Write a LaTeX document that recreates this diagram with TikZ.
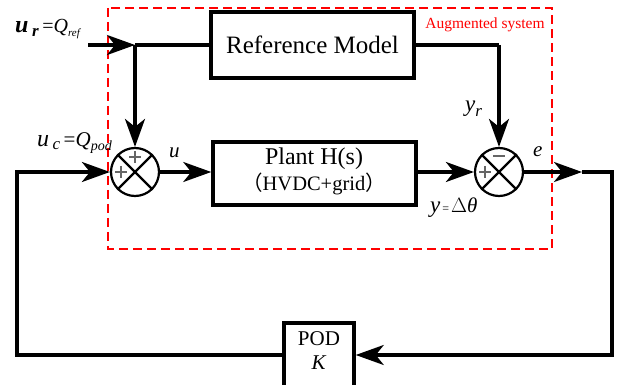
\documentclass[tikz,border=0pt]{standalone}
\usepackage{fontspec}
\setmainfont{Liberation Serif}
\newfontfamily\cjkfont{Noto Sans CJK SC}
\usetikzlibrary{arrows.meta,calc}
\begin{document}
\begin{tikzpicture}[x=1pt,y=-1pt,
  blk/.style={draw,line width=3.5pt,minimum width=203pt,inner sep=0pt,align=center},
  sumc/.style={draw,circle,line width=2.2pt,minimum size=48pt,inner sep=0pt},
  wire/.style={line width=3.2pt},
  arr/.style={wire,-{Stealth[length=28pt,width=20pt,inset=8pt]}},
  sign/.style={line width=1.4pt,gray!80!black},
  lbl/.style={inner sep=0pt,font=\fontsize{21}{21}\selectfont}]
\clip (0,0) rectangle (625,385);
\useasboundingbox (0,0) rectangle (625,385);
% augmented system box
\draw[red,line width=1.7pt,dash pattern=on 9pt off 5pt] (108,8) rectangle (552,249);
\node[red,inner sep=0pt,font=\fontsize{15.5}{15.5}\selectfont] (aug) at (485,25) {Augmented system};
% blocks
\node[blk,minimum height=66pt,font=\fontsize{25}{25}\selectfont] (rm) at (312.5,45) {Reference Model};
\node[blk,minimum height=63pt] (plant) at (314.5,173.5) {};
\node[inner sep=0pt,anchor=base,font=\fontsize{24}{24}\selectfont] (pt1) at (314,165) {Plant H(s)};
\node[inner sep=0pt,anchor=base,font=\fontsize{20.5}{20.5}\selectfont] (pt2) at (314,191) {{\cjkfont （}HVDC+grid{\cjkfont ）}};
\node[draw,line width=3.5pt,minimum width=70pt,minimum height=70pt,inner sep=0pt] (pod) at (319,358) {};
\node[inner sep=0pt,align=center,font=\fontsize{21}{24}\selectfont,anchor=north] (podt) at (319,331) {POD\\\textit{K}};
% summing junctions
\node[sumc] (s1) at (135,172) {};
\node[sumc] (s2) at (499,172) {};
\foreach \s in {s1,s2}{
  \draw[line width=2.2pt] (\s.north west) -- (\s.south east);
  \draw[line width=2.2pt] (\s.north east) -- (\s.south west);
}
\draw[sign] ($(s1)+(-6,-15)$) -- ($(s1)+(6,-15)$) ($(s1)+(0,-21)$) -- ($(s1)+(0,-9)$);
\draw[sign] ($(s1)+(-20,0)$) -- ($(s1)+(-8,0)$) ($(s1)+(-14,-6)$) -- ($(s1)+(-14,6)$);
\draw[sign] ($(s2)+(-6,-16)$) -- ($(s2)+(6,-16)$);
\draw[sign] ($(s2)+(-20,0)$) -- ($(s2)+(-8,0)$) ($(s2)+(-14,-6)$) -- ($(s2)+(-14,6)$);
% coordinates
\coordinate (urin) at (88,45);
\coordinate (j1) at (135,45);
\coordinate (ytop) at (499,45);
\coordinate (etip) at (582,172);
\coordinate (c1) at (612,172);
\coordinate (c2) at (612,355);
\coordinate (c3) at (17,355);
\coordinate (c4) at (17,172);
% connectors
\draw[arr] (urin) -- (j1);
\draw[wire] (j1) -- (rm.west |- j1);
\draw[arr] (j1) -- (s1.north);
\draw[wire] (rm.east |- ytop) -- (ytop);
\draw[arr] (ytop) -- (s2.north);
\draw[arr] (s1.east) -- (plant.west |- s1.east);
\draw[arr] (plant.east |- s2.west) -- (s2.west);
\draw[arr] (s2.east) -- (etip);
\draw[wire,line join=miter] (etip) -- (c1) -- (c2) -- ++(-100,0);
\draw[arr] (c2) -- (pod.east |- c2);
\draw[wire,line join=miter] (pod.west |- c2) -- (c3) -- (c4) -- ++(40,0);
\draw[arr] (c4) -- (s1.west);
% labels
\node[lbl,anchor=base west] (lur) at (15,33) {{\fontsize{24}{24}\selectfont\textbf{\textit{u}}}\,\raisebox{-4pt}{\fontsize{17}{17}\selectfont\textbf{\textit{r}}}\,{\fontsize{20}{20}\selectfont =\textit{Q}}\raisebox{-4pt}{\fontsize{11}{11}\selectfont\textit{ref}}};
\node[lbl,anchor=base west] (luc) at (37,147) {{\fontsize{24}{24}\selectfont\textit{u}}\,\raisebox{-3pt}{\fontsize{17}{17}\selectfont\textit{c}}{\fontsize{21}{21}\selectfont\,=\textit{Q}}\raisebox{-4pt}{\fontsize{14}{14}\selectfont\textit{pod}}};
\node[lbl,anchor=base west] (lu) at (169,158) {\textit{u}};
\node[lbl,anchor=base west] (lyr) at (465,112) {{\fontsize{23}{23}\selectfont\textit{y}}\raisebox{-5pt}{\fontsize{17}{17}\selectfont\textit{r}}};
\node[lbl,anchor=base west] (le) at (533,157) {\textit{e}};
\node[lbl,anchor=base west] (ly) at (430,213) {{\fontsize{23}{23}\selectfont\textit{y}}{\fontsize{12}{12}\selectfont\,=\,}{\fontsize{21}{21}\selectfont$\Delta$\textit{θ}}};
\end{tikzpicture}
\end{document}
